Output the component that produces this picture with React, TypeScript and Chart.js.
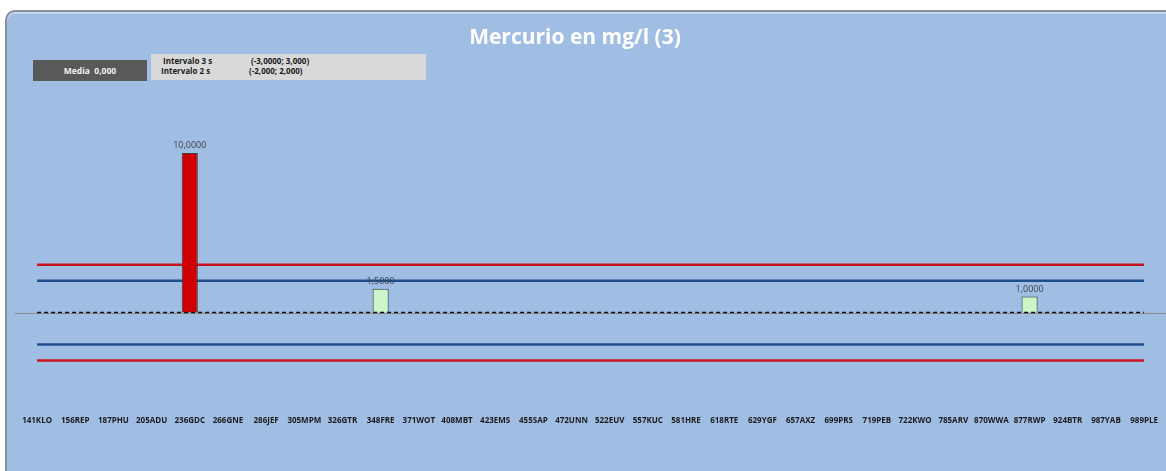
import React, { useEffect, useRef } from "react";
import { Chart, registerables } from "chart.js";

Chart.register(...registerables);

const categories = [
  "141KLO", "156REP", "187PHU", "205ADU", "236GDC", "266GNE", "286JEF", "305MPM", "326GTR", "348FRE",
  "371WOT", "408MBT", "423EMS", "455SAP", "472UNN", "522EUV", "557KUC", "581HRE", "618RTE", "629YGF",
  "657AXZ", "699PRS", "719PEB", "722KWO", "785ARV", "870WWA", "877RWP", "924BTR", "987YAB", "989PLE",
];

const values: (number | null)[] = [
  null, null, null, null, 10, null, null, null, null, 1.5,
  null, null, null, null, null, null, null, null, null, null,
  null, null, null, null, null, null, 1, null, null, null,
];

const mean = 0;
const limit3s = 3;
const limit2s = 2;
const title = "Mercurio en mg/l (3)";
const mediaText = "Media  0,000";
const interval3Label = "Intervalo 3 s";
const interval3Text = "(-3,0000; 3,000)";
const interval2Label = "Intervalo 2 s";
const interval2Text = "(-2,000; 2,000)";

const fmt = (v: number) => v.toFixed(4).replace(".", ",");

const first = categories[0];
const last = categories[categories.length - 1];
const hline = (y: number) => [
  { x: first, y },
  { x: last, y },
];

const overlayPlugin = {
  id: "overlay",
  beforeDatasetsDraw(chart: any) {
    const { ctx, chartArea } = chart;
    const y0 = chart.scales.y.getPixelForValue(mean);
    ctx.save();
    ctx.strokeStyle = "#8a8a8a";
    ctx.lineWidth = 1;
    ctx.beginPath();
    ctx.moveTo(chartArea.left - 3, Math.round(y0) + 0.5);
    ctx.lineTo(chart.width, Math.round(y0) + 0.5);
    ctx.stroke();
    ctx.restore();
  },
  afterDatasetsDraw(chart: any) {
    const { ctx } = chart;
    const meta = chart.getDatasetMeta(0);
    ctx.save();
    ctx.font = "9px 'Open Sans', sans-serif";
    ctx.fillStyle = "#404040";
    ctx.textAlign = "center";
    ctx.textBaseline = "bottom";
    meta.data.forEach((el: any, i: number) => {
      const v = values[i];
      if (v === null || v === undefined) return;
      ctx.fillText(fmt(v), el.x, el.y - 3);
    });
    ctx.restore();
  },
};

export default function App() {
  const ref = useRef<HTMLCanvasElement | null>(null);

  useEffect(() => {
    if (!ref.current) return;
    const chart = new Chart(ref.current, {
      data: {
        labels: categories,
        datasets: [
          {
            type: "bar",
            data: values,
            backgroundColor: values.map((v) =>
              v !== null && Math.abs(v - mean) > limit3s ? "#D00000" : "#CCF5C8"
            ),
            borderColor: "#3a3a3a",
            borderWidth: 1,
            barPercentage: 0.84,
            categoryPercentage: 0.5,
            order: 1,
          },
          {
            type: "line",
            data: hline(mean) as any,
            borderColor: "#111111",
            borderWidth: 1.5,
            borderDash: [4, 3],
            pointRadius: 0,
            order: 0,
          },
          {
            type: "line",
            data: hline(limit3s) as any,
            borderColor: "#C8141E",
            borderWidth: 2.5,
            pointRadius: 0,
            order: 2,
          },
          {
            type: "line",
            data: hline(-limit3s) as any,
            borderColor: "#C8141E",
            borderWidth: 2.5,
            pointRadius: 0,
            order: 2,
          },
          {
            type: "line",
            data: hline(limit2s) as any,
            borderColor: "#1F4E8C",
            borderWidth: 2.5,
            pointRadius: 0,
            order: 2,
          },
          {
            type: "line",
            data: hline(-limit2s) as any,
            borderColor: "#1F4E8C",
            borderWidth: 2.5,
            pointRadius: 0,
            order: 2,
          },
        ],
      } as any,
      options: {
        animation: false,
        responsive: false,
        maintainAspectRatio: false,
        layout: { padding: { top: 105, bottom: 37, left: 18, right: 0 } },
        plugins: {
          legend: { display: false },
          tooltip: { enabled: false },
          title: { display: false },
        },
        scales: {
          x: {
            type: "category",
            offset: true,
            grid: { display: false, drawTicks: false },
            border: { display: false },
            ticks: {
              autoSkip: false,
              maxRotation: 0,
              minRotation: 0,
              padding: 8,
              color: "#1a1a1a",
              font: { size: 8, weight: "bold", family: "'Open Sans', sans-serif" },
            },
          },
          y: {
            display: false,
            min: -6,
            max: 13,
          },
        },
      } as any,
      plugins: [overlayPlugin],
    });
    return () => chart.destroy();
  }, []);

  return (
    <div
      style={{
        position: "fixed",
        left: 0,
        top: 0,
        width: 1166,
        height: 471,
        background: "#ffffff",
        overflow: "hidden",
      }}
    >
      <div
        style={{
          position: "absolute",
          left: 5,
          top: 10,
          width: 1200,
          height: 520,
          background: "#A0BEE4",
          border: "2px solid #8c8f94",
          borderRadius: 10,
          boxShadow: "inset 0 2px 0 #c4d8f2",
        }}
      />
      <canvas
        ref={ref}
        width={1166}
        height={471}
        style={{ position: "absolute", left: 0, top: 0, width: 1166, height: 471 }}
      />
      <div
        style={{
          position: "absolute",
          left: 0,
          width: 1150,
          top: 23,
          textAlign: "center",
          color: "#ffffff",
          fontFamily: "'Open Sans', sans-serif",
          fontWeight: "bold",
          fontSize: 21,
          lineHeight: "26px",
        }}
      >
        {title}
      </div>
      <div
        style={{
          position: "absolute",
          left: 33,
          top: 60,
          width: 114,
          height: 21,
          background: "#595959",
          color: "#f2f2f2",
          fontFamily: "'Open Sans', sans-serif",
          fontWeight: "bold",
          fontSize: 8.5,
          lineHeight: "21px",
          textAlign: "center",
          whiteSpace: "pre",
        }}
      >
        {mediaText}
      </div>
      <div
        style={{
          position: "absolute",
          left: 151,
          top: 54,
          width: 275,
          height: 26,
          background: "#D9D9D9",
          color: "#1a1a1a",
          fontFamily: "'Open Sans', sans-serif",
          fontWeight: "bold",
          fontSize: 8,
          lineHeight: "10px",
        }}
      >
        <div style={{ position: "absolute", left: 12, top: 2 }}>{interval3Label}</div>
        <div style={{ position: "absolute", left: 100, top: 2 }}>{interval3Text}</div>
        <div style={{ position: "absolute", left: 10, top: 12 }}>{interval2Label}</div>
        <div style={{ position: "absolute", left: 98, top: 12 }}>{interval2Text}</div>
      </div>
    </div>
  );
}
